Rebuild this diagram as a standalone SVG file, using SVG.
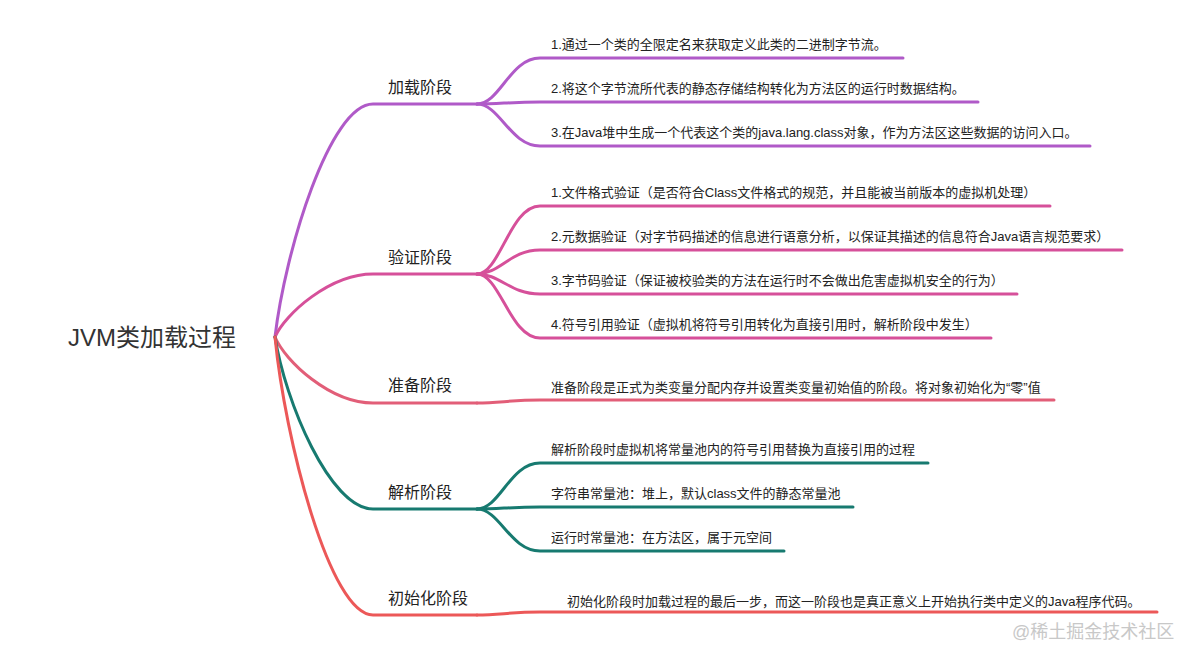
<svg xmlns="http://www.w3.org/2000/svg" width="1179" height="648" viewBox="0 0 1179 648">
<style>
text{font-family:"Liberation Sans","Noto Sans CJK SC",sans-serif;fill:#222}
.title{font-size:24px;fill:#333}
.lbl{font-size:16px}
.leaf{font-size:13px}
.wm{font-size:18px;fill:#c8c8c8}
path{fill:none;stroke-linecap:round;stroke-width:3}
.c1{stroke:#b05ac8}
.c2{stroke:#d6509a}
.c3{stroke:#e25e78}
.c4{stroke:#177a70}
.c5{stroke:#ec5858}
</style>
<rect width="1179" height="648" fill="#fff"/>
<g id="connectors">
<path class="c1" d="M275 337 C285 251 330 104 373 104 L477 104"/>
<path class="c1" d="M477 104 C500 104 510 58 540 58 L903 58"/>
<path class="c1" d="M477 104 C500 104 510 102 540 102 L978 102"/>
<path class="c1" d="M477 104 C500 104 510 146 540 146 L1090 146"/>
<path class="c2" d="M275 337 C285 314 330 274 373 274 L477 274"/>
<path class="c2" d="M477 274 C500 274 510 206 540 206 L1050 206"/>
<path class="c2" d="M477 274 C500 274 510 250 540 250 L1122 250"/>
<path class="c2" d="M477 274 C500 274 510 294 540 294 L1017 294"/>
<path class="c2" d="M477 274 C500 274 510 338 540 338 L991 338"/>
<path class="c3" d="M275 337 C285 361 330 403 373 403 L477 403"/>
<path class="c3" d="M477 403 C500 403 510 400 540 400 L1054 400"/>
<path class="c4" d="M275 337 C285 401 330 509 373 509 L477 509"/>
<path class="c4" d="M477 509 C500 509 510 463 540 463 L928 463"/>
<path class="c4" d="M477 509 C500 509 510 507 540 507 L853 507"/>
<path class="c4" d="M477 509 C500 509 510 551 540 551 L784 551"/>
<path class="c5" d="M275 337 C285 440 330 615 373 615 L477 615"/>
<path class="c5" d="M477 615 C500 615 510 612 540 612 L1157 612"/>
</g>
<g id="root"><text class="title" x="68" y="346">JVM类加载过程</text></g>
<g id="n-load">
<text class="lbl" x="388" y="93">加载阶段</text>
<text class="leaf" x="551" y="49">1.通过一个类的全限定名来获取定义此类的二进制字节流。</text>
<text class="leaf" x="551" y="93">2.将这个字节流所代表的静态存储结构转化为方法区的运行时数据结构。</text>
<text class="leaf" x="551" y="137">3.在Java堆中生成一个代表这个类的java.lang.class对象，作为方法区这些数据的访问入口。</text>
</g>
<g id="n-verify">
<text class="lbl" x="388" y="263">验证阶段</text>
<text class="leaf" x="551" y="197">1.文件格式验证（是否符合Class文件格式的规范，并且能被当前版本的虚拟机处理）</text>
<text class="leaf" x="551" y="241">2.元数据验证（对字节码描述的信息进行语意分析，以保证其描述的信息符合Java语言规范要求）</text>
<text class="leaf" x="551" y="285">3.字节码验证（保证被校验类的方法在运行时不会做出危害虚拟机安全的行为）</text>
<text class="leaf" x="551" y="329">4.符号引用验证（虚拟机将符号引用转化为直接引用时，解析阶段中发生）</text>
</g>
<g id="n-prepare">
<text class="lbl" x="388" y="391">准备阶段</text>
<text class="leaf" x="551" y="392">准备阶段是正式为类变量分配内存并设置类变量初始值的阶段。将对象初始化为“零”值</text>
</g>
<g id="n-resolve">
<text class="lbl" x="388" y="498">解析阶段</text>
<text class="leaf" x="551" y="454">解析阶段时虚拟机将常量池内的符号引用替换为直接引用的过程</text>
<text class="leaf" x="551" y="498">字符串常量池：堆上，默认class文件的静态常量池</text>
<text class="leaf" x="551" y="542">运行时常量池：在方法区，属于元空间</text>
</g>
<g id="n-init">
<text class="lbl" x="388" y="604">初始化阶段</text>
<text class="leaf" x="567" y="606">初始化阶段时加载过程的最后一步，而这一阶段也是真正意义上开始执行类中定义的Java程序代码。</text>
</g>
<g id="watermark"><text class="wm" x="1012" y="638">@稀土掘金技术社区</text></g>
</svg>
